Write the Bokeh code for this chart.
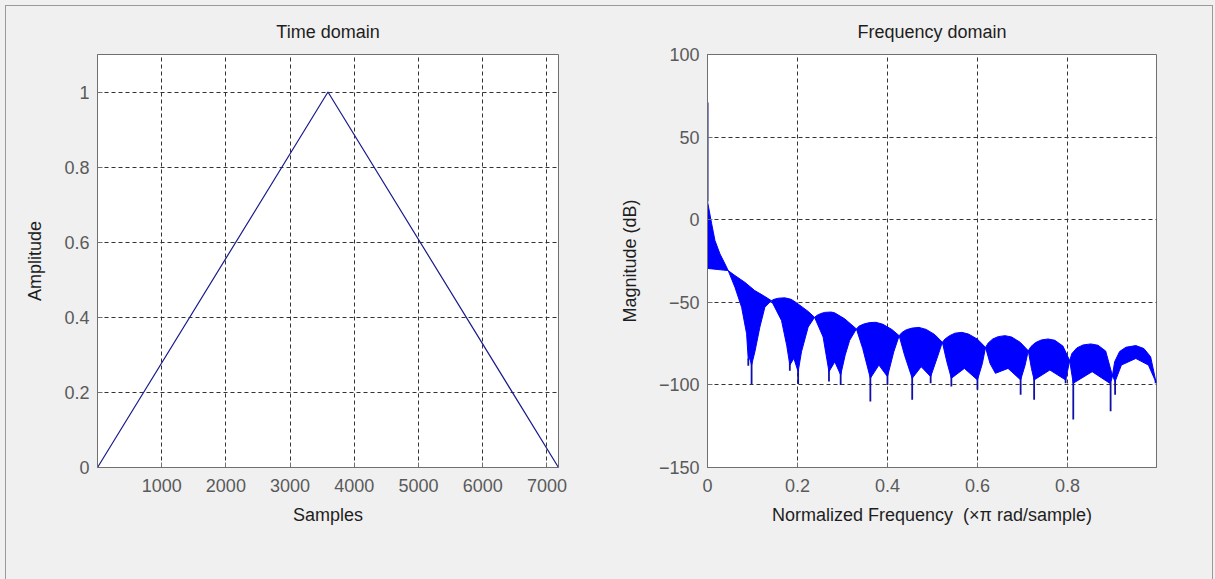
from bokeh.plotting import figure
from bokeh.layouts import row
from bokeh.models import Range1d, FixedTicker, CustomJSTickFormatter
from bokeh.embed import file_html
from bokeh.resources import INLINE

# ---------------- data ----------------
time_samples = [1, 3590, 7180]
time_amplitude = [0, 1, 0]
time_xticks = [1000, 2000, 3000, 4000, 5000, 6000, 7000]
time_yticks = [0, 0.2, 0.4, 0.6, 0.8, 1]
time_ygrid = [0.2, 0.4, 0.6, 0.8, 1]

freq_xticks = [0, 0.2, 0.4, 0.6, 0.8]
freq_xgrid = [0.2, 0.4, 0.6, 0.8]
freq_yticks = [-150, -100, -50, 0, 50, 100]
freq_ygrid = [-100, -50, 0, 50]

# upper envelope of the magnitude response (normalized freq, dB)
upper_f = [0.0, 0.0093, 0.0166, 0.0277, 0.0388, 0.046,
           0.061, 0.083, 0.105, 0.124, 0.142,
           0.148, 0.158, 0.172, 0.186, 0.1975, 0.2237, 0.238,
           0.244, 0.252, 0.2606, 0.275, 0.2827, 0.3049, 0.331,
           0.337, 0.347, 0.36, 0.374, 0.39, 0.41, 0.426,
           0.432, 0.442, 0.455, 0.470, 0.486, 0.505, 0.522,
           0.528, 0.538, 0.55, 0.565, 0.58, 0.60, 0.618,
           0.624, 0.634, 0.646, 0.661, 0.676, 0.695, 0.713,
           0.719, 0.729, 0.742, 0.757, 0.772, 0.79, 0.805,
           0.810, 0.821, 0.835, 0.852, 0.868, 0.885, 0.900,
           0.905, 0.916, 0.93, 0.952, 0.97, 0.985, 0.997]
upper_db = [11.0, -2.5, -12.6, -20.7, -26.7, -30.8,
            -33.8, -37.9, -42.9, -45.9, -49.0,
            -48.2, -47.5, -47.3, -48.2, -50.2, -55.5, -59.1,
            -57.8, -56.8, -56.1, -55.9, -56.4, -60.0, -66.1,
            -64.4, -63.2, -62.3, -62.1, -63.3, -66.5, -70.2,
            -68.3, -66.6, -65.6, -65.2, -66.4, -69.5, -74.2,
            -72.2, -70.2, -68.7, -68.2, -69.2, -72.3, -77.3,
            -74.6, -72.2, -70.8, -70.2, -71.0, -74.2, -79.3,
            -76.8, -74.4, -72.8, -72.2, -73.0, -76.5, -85.3,
            -81.0, -77.6, -75.8, -75.2, -76.0, -79.5, -94.4,
            -86.0, -79.8, -77.2, -76.2, -78.0, -83.0, -98.5]

# lower envelope of the filled oscillation (normalized freq, dB)
lower_f = [0.0, 0.046,
           0.061, 0.0758, 0.0869, 0.0907, 0.094, 0.098, 0.1053, 0.1164, 0.1275, 0.142,
           0.1645, 0.176, 0.183, 0.192, 0.2015, 0.2089, 0.2237, 0.238,
           0.257, 0.270, 0.283, 0.296, 0.306, 0.316, 0.331,
           0.345, 0.362, 0.381, 0.400, 0.414, 0.426,
           0.438, 0.455, 0.475, 0.496, 0.51, 0.522,
           0.532, 0.542, 0.571, 0.600, 0.611, 0.618,
           0.628, 0.640, 0.668, 0.696, 0.706, 0.713,
           0.72, 0.726, 0.761, 0.796, 0.80, 0.805,
           0.81, 0.813, 0.855, 0.894, 0.898, 0.900,
           0.906, 0.92, 0.952, 0.98, 0.997]
lower_db = [-29.5, -30.8,
            -40.9, -53.0, -69.0, -85.0, -84.0, -88.0, -80.0, -65.0, -53.0, -49.0,
            -61.0, -76.0, -88.0, -84.0, -92.0, -80.0, -65.0, -59.1,
            -71.0, -92.0, -86.0, -94.0, -82.0, -73.0, -66.1,
            -78.0, -96.0, -88.0, -95.0, -80.0, -70.2,
            -82.0, -96.0, -89.0, -95.0, -84.0, -74.2,
            -86.0, -96.0, -90.0, -97.0, -87.0, -77.3,
            -87.0, -93.0, -90.0, -97.0, -88.0, -79.3,
            -90.0, -97.0, -91.0, -97.0, -92.0, -85.3,
            -94.0, -99.0, -92.0, -99.0, -97.0, -94.4,
            -98.0, -88.0, -84.0, -88.0, -98.5]

# narrow nulls below the band
spike_f = [0.0907, 0.098, 0.183, 0.2015, 0.270, 0.296, 0.362, 0.400, 0.455, 0.496,
           0.542, 0.600, 0.696, 0.726, 0.796, 0.813, 0.896, 0.906, 0.996]
spike_top = [-84, -86, -86, -90, -90, -92, -94, -93, -94, -93,
             -94, -95, -95, -95, -95, -97, -97, -97, -97]
spike_db = [-88.4, -99.5, -91.4, -99.5, -98, -100, -110, -100, -109, -99,
            -101, -103, -106, -109, -99, -121, -116, -106, -99]

# DC peak
dc_f = [0.0006, 0.0006]
dc_db = [71, 11]

FONT = "Liberation Sans"
GRID = "#333333"
AXC = "#707070"

fmt = CustomJSTickFormatter(code="return String(Math.round(tick*10)/10);")


def style(p, xticks, yticks, xgrid, ygrid, xlabel, ylabel, xfmt=None, yfmt=None):
    p.title.align = "center"
    p.title.text_font = FONT
    p.title.text_font_size = "18px"
    p.title.text_font_style = "normal"
    p.title.text_color = "#1e1e1e"
    p.title.standoff = 26
    p.outline_line_color = AXC
    p.outline_line_width = 1
    for ax, ticks, lab, f in ((p.xaxis[0], xticks, xlabel, xfmt), (p.yaxis[0], yticks, ylabel, yfmt)):
        ax.ticker = FixedTicker(ticks=ticks)
        if f is not None:
            ax.formatter = f
        ax.axis_label = lab
        ax.axis_label_text_font = FONT
        ax.axis_label_text_font_size = "18px"
        ax.axis_label_text_font_style = "normal"
        ax.axis_label_text_color = "#1e1e1e"
        ax.major_label_text_font = FONT
        ax.major_label_text_font_size = "18px"
        ax.major_label_text_color = "#5a5a5a"
        ax.axis_line_color = AXC
        ax.major_tick_line_color = AXC
        ax.major_tick_in = 5
        ax.major_tick_out = 0
        ax.minor_tick_line_color = None
        ax.major_label_standoff = 8
    p.xaxis[0].major_label_standoff = 11
    p.xaxis[0].axis_label_standoff = 10
    p.yaxis[0].axis_label_standoff = 16
    p.xgrid.ticker = FixedTicker(ticks=xgrid)
    p.ygrid.ticker = FixedTicker(ticks=ygrid)
    for g in (p.xgrid, p.ygrid):
        g.grid_line_color = GRID
        g.grid_line_dash = "4 3"
        g.grid_line_width = 1


p1 = figure(width=601, height=573, x_range=Range1d(1, 7180), y_range=Range1d(0, 1.1),
            output_backend="svg", toolbar_location=None, title="Time domain",
            min_border_left=91, min_border_right=49, min_border_top=48, min_border_bottom=110,
            background_fill_color="white", border_fill_color="#f0f0f0")
style(p1, time_xticks, time_yticks, time_xticks, time_ygrid, "Samples", "Amplitude", yfmt=fmt)
p1.line(time_samples, time_amplitude, line_color="#1a1a8c", line_width=1.2)

p2 = figure(width=605, height=573, x_range=Range1d(0, 0.998), y_range=Range1d(-150, 100),
            output_backend="svg", toolbar_location=None, title="Frequency domain",
            min_border_left=100, min_border_right=56, min_border_top=48, min_border_bottom=112,
            background_fill_color="white", border_fill_color="#f0f0f0")
style(p2, freq_xticks, freq_yticks, freq_xgrid, freq_ygrid,
      "Normalized Frequency \u00a0(\u00d7\u03c0 rad/sample)", "Magnitude (dB)", xfmt=fmt)

p2.segment(x0=spike_f, y0=spike_top, x1=spike_f, y1=spike_db, line_color="#1010a8", line_width=1.8)
band_x = upper_f + lower_f[::-1]
band_y = upper_db + lower_db[::-1]
p2.patch(band_x, band_y, fill_color="#0000ff", line_color="#0000ff", line_width=1)
p2.line(dc_f, dc_db, line_color="#1a1a8c", line_width=1.5)

layout = row(p1, p2, margin=(5, 0, 0, 5),
             styles={"border-top": "1px solid #9a9a9a", "border-left": "1px solid #9a9a9a",
                     "border-right": "1px solid #9a9a9a", "background-color": "#f0f0f0"})

html = file_html(layout, INLINE, "Window analysis")
html = html.replace("<body>", '<body style="margin:0;background-color:#f0f0f0;">')
open("out.html", "w").write(html)
